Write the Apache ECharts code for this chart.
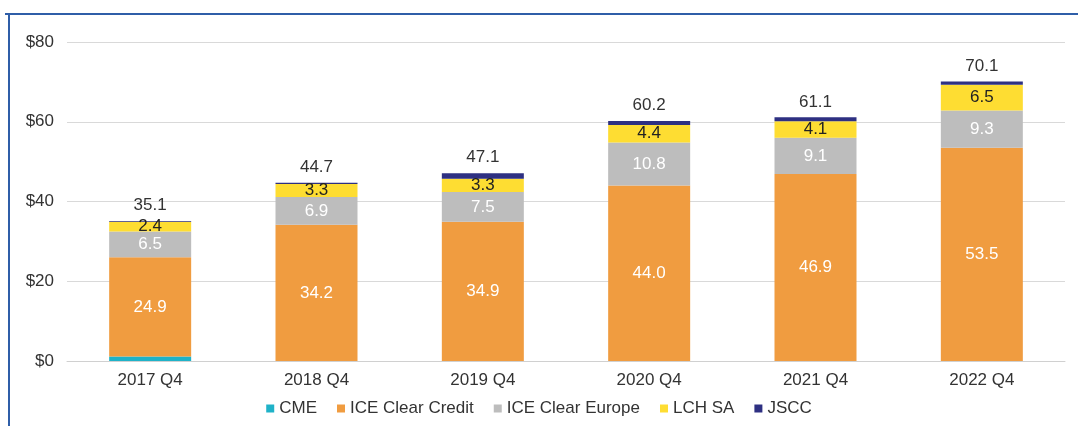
<!DOCTYPE html>
<html><head><meta charset="utf-8">
<script src="https://cdn.jsdelivr.net/npm/echarts@6/dist/echarts.min.js"></script>
<style>html,body{margin:0;padding:0;background:#fff}#c{width:1078px;height:426px}</style>
</head><body><div id="c"></div>
<script>
const categories = ['2017 Q4','2018 Q4','2019 Q4','2020 Q4','2021 Q4','2022 Q4'];
const cme = [1.1, 0, 0, 0, 0, 0];
const iceCredit = [24.9, 34.2, 34.9, 44.0, 46.9, 53.5];
const iceEurope = [6.5, 6.9, 7.5, 10.8, 9.1, 9.3];
const lchSA = [2.4, 3.3, 3.3, 4.4, 4.1, 6.5];
const jscc = [0.2, 0.3, 1.4, 1.0, 1.0, 0.8];
const totals = [35.1, 44.7, 47.1, 60.2, 61.1, 70.1];
const yTicks = [0, 20, 40, 60, 80];

const FONT = '"Liberation Sans Narrow", "Liberation Sans", sans-serif';
const FS = 17;
const chart = echarts.init(document.getElementById('c'));
const base = {type:'bar', stack:'t', barWidth:82};
chart.setOption({
  animation:false,
  textStyle:{fontFamily:FONT},
  graphic:[
    {type:'line', shape:{x1:5,y1:14,x2:1078,y2:14}, style:{stroke:'#2f5ea8', lineWidth:2}},
    {type:'line', shape:{x1:9,y1:14,x2:9,y2:426}, style:{stroke:'#2f5ea8', lineWidth:2}}
  ],
  grid:{left:67, right:13, top:42, bottom:65},
  legend:{bottom:4, left:'center', itemWidth:8, itemHeight:8, itemGap:20, itemStyle:{borderWidth:0},
    icon:'rect', textStyle:{fontFamily:FONT, fontSize:FS, color:'#333'},
    data:['CME','ICE Clear Credit','ICE Clear Europe','LCH SA','JSCC']},
  xAxis:{type:'category', data:categories,
    axisLine:{lineStyle:{color:'#d0d0d0'}}, axisTick:{show:false},
    axisLabel:{fontFamily:FONT, fontSize:FS, color:'#333', margin:11}},
  yAxis:{type:'value', min:0, max:80, interval:20,
    axisLabel:{fontFamily:FONT, fontSize:FS, color:'#333', margin:13,
      formatter:v=> yTicks.includes(v) ? '$'+v : ''},
    splitLine:{lineStyle:{color:'#d9d9d9'}}},
  series:[
    {...base, name:'CME', data:cme, itemStyle:{color:'#1fb2c8'}},
    {...base, name:'ICE Clear Credit', data:iceCredit, itemStyle:{color:'#f09c40'},
      label:{show:true, position:'inside', color:'#fff', fontSize:FS, fontFamily:FONT, formatter:p=>p.value.toFixed(1)}},
    {...base, name:'ICE Clear Europe', data:iceEurope, itemStyle:{color:'#bdbdbd'},
      label:{show:true, position:'inside', color:'#fff', fontSize:FS, fontFamily:FONT, formatter:p=>p.value.toFixed(1)}},
    {...base, name:'LCH SA', data:lchSA, itemStyle:{color:'#fedd32'},
      label:{show:true, position:'inside', color:'#222', fontSize:FS, fontFamily:FONT, formatter:p=>p.value.toFixed(1)}},
    {...base, name:'JSCC', data:jscc, itemStyle:{color:'#2e3082'},
      label:{show:true, position:'top', distance:7, color:'#333', fontSize:FS, fontFamily:FONT,
        formatter:p=>totals[p.dataIndex].toFixed(1)}}
  ]
});
</script></body></html>
